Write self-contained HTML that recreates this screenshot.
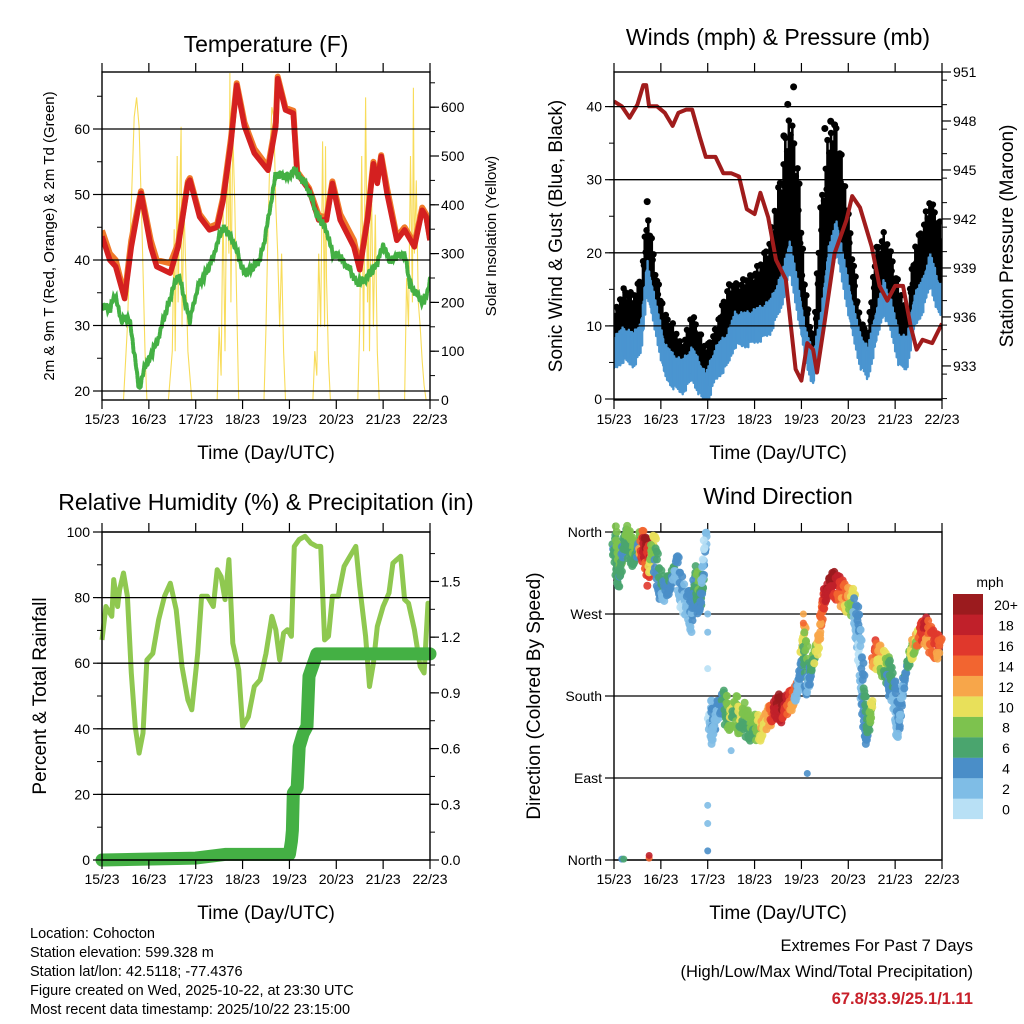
<!DOCTYPE html>
<html><head><meta charset="utf-8"><style>
html,body{margin:0;padding:0;background:#fff;}
svg{display:block;font-family:"Liberation Sans",Arial,sans-serif;}
</style></head><body>
<svg id="c" width="1024" height="1024" viewBox="0 0 1024 1024">
<rect width="1024" height="1024" fill="#fff"/>
<g id="g1"></g>
<g id="g2"></g>
<g id="g3"></g>
<g id="g4"></g>
<text x="266" y="52" font-size="23" text-anchor="middle">Temperature (F)</text>
<text x="778" y="45" font-size="23" text-anchor="middle">Winds (mph) &amp; Pressure (mb)</text>
<text x="266" y="510" font-size="23" text-anchor="middle">Relative Humidity (%) &amp; Precipitation (in)</text>
<text x="778" y="504" font-size="23" text-anchor="middle">Wind Direction</text>
<text transform="translate(54,236) rotate(-90)" font-size="15" text-anchor="middle">2m &amp; 9m T (Red, Orange) &amp; 2m Td (Green)</text>
<text transform="translate(496,236) rotate(-90)" font-size="15" text-anchor="middle">Solar Insolation (Yellow)</text>
<text transform="translate(562,236) rotate(-90)" font-size="19" text-anchor="middle">Sonic Wind &amp; Gust (Blue, Black)</text>
<text transform="translate(1013,236) rotate(-90)" font-size="19" text-anchor="middle">Station Pressure (Maroon)</text>
<text transform="translate(46,696) rotate(-90)" font-size="19" text-anchor="middle">Percent &amp; Total Rainfall</text>
<text transform="translate(540,696) rotate(-90)" font-size="19" text-anchor="middle">Direction (Colored By Speed)</text>
<text x="266" y="459" font-size="19" text-anchor="middle">Time (Day/UTC)</text>
<text x="778" y="459" font-size="19" text-anchor="middle">Time (Day/UTC)</text>
<text x="266" y="919" font-size="19" text-anchor="middle">Time (Day/UTC)</text>
<text x="778" y="919" font-size="19" text-anchor="middle">Time (Day/UTC)</text>
<g font-size="14.5">
<text x="30" y="938">Location: Cohocton</text>
<text x="30" y="957">Station elevation: 599.328 m</text>
<text x="30" y="976">Station lat/lon: 42.5118; -77.4376</text>
<text x="30" y="995">Figure created on Wed, 2025-10-22, at 23:30 UTC</text>
<text x="30" y="1014">Most recent data timestamp: 2025/10/22 23:15:00</text>
</g>
<g text-anchor="end">
<text x="973" y="951" font-size="16.5">Extremes For Past 7 Days</text>
<text x="973" y="977" font-size="16.5">(High/Low/Max Wind/Total Precipitation)</text>
<text x="973" y="1004" font-size="16.5" font-weight="bold" fill="#c8202a">67.8/33.9/25.1/1.11</text>
</g>
<text x="990" y="587" font-size="14" text-anchor="middle">mph</text>
<g id="cb"></g>
</svg>
<script>
const dayLabels=["15/23","16/23","17/23","18/23","19/23","20/23","21/23","22/23"];
const tempTicks=[20,30,40,50,60];
const solarTicks=[0,100,200,300,400,500,600];
const windTicks=[0,10,20,30,40];
const presTicks=[933,936,939,942,945,948,951];
const rhTicks=[0,20,40,60,80,100];
const prTicks=[0.0,0.3,0.6,0.9,1.2,1.5];
const dirTicks=[0,90,180,270,360];
const dirLabels=["North","East","South","West","North"];
const speedBins=["0","2","4","6","8","10","12","14","16","18","20+"];
const speedColors=["#b8e0f5","#7fbde6","#4a8ec8","#4aa56e","#7dc24e","#e8e05a","#f7a64a","#f26530","#e0382c","#c0202a","#9b1b1e"];

const tH=[0,4,7,11.6,15,20,25,28,35,39,44,45,50,55,59,62,66,69,73,78,85,89,90,94,98,100,106,111,115,118,122,129,132,136,139,141,143,146,151,155,160,164,166,168];
const tRed=[43.6,40,39,34.1,42,50.2,42,39,38,42,51.7,52.2,46.6,44.6,45,49,57.8,66.7,60.4,56.3,53.7,60.4,67.7,62.9,62.4,53.2,50.7,46.1,46.1,51.7,46.1,42,38.5,46.1,54.7,51.7,55.8,50.2,43,44.6,42,47.6,46.6,43];
const tOrange=[44.5,41,40,34.5,43,50.5,43,40,39.5,42.5,52,52.5,47,45,45.5,49.5,58.5,67,61,57,54.2,61,68,63.2,62.8,53.5,51,46.8,46.5,52,47,43,39,46.5,55,52,56,51,43.5,45,42.5,48,47,43.2];
const dH=[0,4,6.5,10,14,17,19,22,28,33,39,45,49,55,62,67,73,80,83,89,94,99,105,110,115,118,122,127,131,136,141,144,147,155,158,165,168];
const dV=[33.1,32.4,34.7,30.8,31.3,24.7,20.2,23.7,27.3,32.4,38,30.8,35.9,39,45.1,43,38,39.5,42.5,53.2,52.7,53.7,51.2,47.1,44.6,41,40.5,38.5,36.4,37.5,39.5,42.5,40,41,35.9,33.4,36.9];
const sH=[0,11,13,15,16.5,17.7,19,20.5,22,23,34,36,37,37.5,38.5,39,40,40.5,41,42,43,44,46,59,60,61,62,63,64,65,65.5,66,67,68,69,70,83,84,85,86,87,88,89,90,91,92,93,94,108,109,110,111,112,113,114,114.5,115,116,117,131,132,133,134,135,136,136.5,137,138,139,140,141,142,155,156,157,158,159,159.5,160,161,162,163,164,165,166,168];
const sV=[0,0,150,400,580,620,560,350,100,0,0,100,350,100,500,200,450,560,150,400,250,100,0,0,150,50,400,100,500,300,670,200,550,400,200,0,0,150,350,500,600,580,400,300,150,300,100,0,0,100,50,300,150,530,150,520,250,80,0,0,150,500,100,620,200,400,100,450,150,380,100,0,0,250,150,500,200,640,300,450,200,150,80,30,0,0];

const wH=[0,5,10,14,17,19,22,26,30,35,40,47,52,58,62,68,75,80,86,90,94,98,102,106,110,114,118,122,126,130,134,138,142,146,150,154,158,162,166,168];
const wSpd=[6.7,8,7.2,9,17.2,14.5,10.8,5.8,4.4,3.5,5.3,1.7,5.3,7.2,10,10,10.8,11.7,15.4,20,14.5,8,4.4,10,19,22.7,17.2,11.7,7.2,5.3,10,14.5,11.7,7.2,6.7,12.6,14.5,18.2,14.5,13.7];
const wGust=[10.4,13.6,12.6,15.4,23.6,20.9,15.4,10.4,9,6.3,10.4,5.8,8.6,13.6,14.5,15,16.8,20,28.3,35.2,29.2,13.6,7.2,23.6,32.6,34.6,27.4,19,10,8.2,18.2,20.9,18.2,13.6,10.8,19,21.8,25.4,22.7,20.9];
const gOutH=[17,87,89,92,108,111,113];
const gOutV=[27,36,40.3,42.7,37,38,37.5];
const pH=[0,4,8,12,15,16.5,18,22,26,30,33,37,40,44,47,52,56,60,64,68,72,75,79,83,88,93,96,99,102,104,108,113,119,122,126,132,136,140,144,148,152,155,158,163,168];
const pV=[949.2,948.9,948.2,949,950.2,950.2,948.9,948.9,948.5,947.7,948.5,948.7,948.7,947,945.8,945.8,944.8,944.8,944.6,942.6,942.3,943.6,942.1,939.5,938.3,932.8,932.1,934.4,934,932.6,935.8,939.9,941.9,943.4,942.7,940.3,937.9,937,937.9,937.9,935.4,934,934.6,934.4,935.6];

const rhH=[0,2,5,6,8,9,11,13,15,17,19,21,23,26,29,32,35,38,41,44,46,49,51,54,57,59,61,63,65,67,70,72,75,78,81,84,87,89,91,93,95,97,98.5,101,104,107,110,112,114,116,118,121,124,126,128,130,132,135,137,139,141,144,147,149,151,153,155,157,160,163,165,167,168];
const rhV=[67.1,77.3,74.3,85.5,77.3,82.4,87.5,80.4,57,40.7,32.6,38.7,61,63,73.2,80.4,84.4,76.3,59,48.8,45.8,63,80.4,80.4,77.3,88.5,86.4,79.4,91.6,66.1,58,40.7,43.7,52.9,54.9,63,74.3,70.2,61,69.2,70.2,68.2,95.6,97.7,98.7,96.6,95.6,95.6,67.1,68.2,80.4,80.4,89.5,91.6,93.6,95.6,83.4,68.2,52.9,60,71.2,77.3,81.4,90.5,91.6,92.6,79.4,78.3,70.2,59,57,78.3,78.3];
const prH=[0,48,63,96,97,97.5,98,100,101,103,105,106,108,110,168];
const prV=[0,0.01,0.03,0.03,0.1,0.16,0.36,0.39,0.61,0.68,0.72,0.99,1.05,1.11,1.11];

const dirH=[0,1,2,3,4,5,6,8,10,12,13,14,15,16,17,18,19,20,22,24,26,28,30,32,34,36,38,40,41,43,44,45,46,47,49,50,51,52,54,56,58,60,62,64,66,68,70,72,74,76,78,80,82,84,86,88,90,92,94,95,96,97,98,99,100,101,102,105,106,107,108,110,112,114,116,118,120,122,124,125,126,127,128,129,130,131,132,133,134,136,138,140,141,142,144,145,146,148,150,152,153,155,157,159,161,163,165,167];
const dirD=[355,340,320,310,330,350,355,345,335,340,350,350,340,345,330,315,335,350,320,300,295,305,310,325,300,280,285,260,310,300,280,290,330,355,165,150,140,160,170,175,160,155,170,150,160,150,145,148,145,145,155,160,165,170,165,170,175,180,185,200,215,250,230,190,200,210,220,240,260,285,290,300,305,300,295,290,285,285,270,250,230,200,170,150,140,155,170,230,220,225,215,210,205,190,180,160,140,190,215,225,235,240,250,255,245,240,235,230];
const dirS=[7,8,8,7,8,6,8,8,8,8,7,14,18,20,16,18,12,10,6,6,4,6,6,4,4,2,4,4,6,8,6,6,4,2,2,4,4,4,4,6,8,10,8,10,8,8,8,8,10,12,12,14,18,20,20,18,16,14,4,4,6,12,8,6,4,6,8,12,14,16,18,20,20,18,16,14,12,10,4,4,2,4,6,6,6,8,10,16,14,12,10,8,6,6,4,4,4,4,6,8,12,10,16,18,14,16,16,14];
const extraH=[48,48,48,48,48,48,4,5,18,18,97,97,99,60];
const extraD=[270,250,210,60,40,10,1,1,2,5,270,260,95,120];
const extraS=[2,2,0,2,2,4,4,6,14,18,12,14,4,2];

const NS='http://www.w3.org/2000/svg';
// fixed visual scatter pattern (styling only)
const JIT=[0,-0.8,0.5,-0.3,0.9,-0.6,0.2,-1,0.7,-0.4,0.3,-0.9,0.8,-0.2,0.6,-0.7];
function mk(parent,tag,attrs){const e=document.createElementNS(NS,tag);for(const k in attrs)e.setAttribute(k,attrs[k]);parent.appendChild(e);return e;}
function line(v){return v.map((p,i)=>(i?'L':'M')+p[0].toFixed(1)+' '+p[1].toFixed(1)).join(' ');}
function interp(hs,vs,h){for(let i=0;i<hs.length-1;i++){if(h>=hs[i]&&h<=hs[i+1]){const f=(h-hs[i])/(hs[i+1]-hs[i]||1);return vs[i]+(vs[i+1]-vs[i])*f;}}return vs[vs.length-1];}

function frame(g,L,R,T,B,leftTicks,leftLab,ly,minorL,rightTicks,rightLab,ry,minorR,grid){
  const xs=h=>L+(R-L)*h/168;
  for(let d=0;d<=7;d++){const x=xs(d*24);
    const t=mk(g,'path',{d:`M${x} ${T} V${T-9} M${x} ${B} V${B+9}`,stroke:'#000','stroke-width':1.2});
    
    const tx=mk(g,'text',{x:x,y:B+24,'font-size':14,'text-anchor':'middle'});tx.textContent=dayLabels[d];
    
  }
  leftTicks.forEach((v,i)=>{const y=ly(v);
    if(grid){const gl=mk(g,'line',{x1:L,x2:R,y1:y,y2:y,stroke:'#000','stroke-width':1.3});
      }
    mk(g,'line',{x1:L-9,x2:L,y1:y,y2:y,stroke:'#000','stroke-width':1.2});
    const tx=mk(g,'text',{x:L-12,y:y+5,'font-size':14,'text-anchor':'end'});tx.textContent=leftLab[i];
    
  });
  minorL.forEach(v=>{const y=ly(v);if(y>=T-0.5&&y<=B+0.5)mk(g,'line',{x1:L-5,x2:L,y1:y,y2:y,stroke:'#000','stroke-width':1});});
  rightTicks.forEach((v,i)=>{const y=ry(v);
    mk(g,'line',{x1:R,x2:R+9,y1:y,y2:y,stroke:'#000','stroke-width':1.2});
    const tx=mk(g,'text',{x:R+11,y:y+5,'font-size':14});tx.textContent=rightLab[i];
    
  });
  minorR.forEach(v=>{const y=ry(v);if(y>=T-0.5&&y<=B+0.5)mk(g,'line',{x1:R,x2:R+5,y1:y,y2:y,stroke:'#000','stroke-width':1});});
  const f=mk(g,'rect',{x:L,y:T,width:R-L,height:B-T,fill:'none',stroke:'#000','stroke-width':1.4});
  
  return xs;
}
function range(a,b,s){const r=[];for(let v=a;v<=b+1e-9;v+=s)r.push(+v.toFixed(3));return r;}

// Panel 1
(function(){
  const g=document.getElementById('g1');const L=102,R=430,T=72,B=400;
  const ty=v=>391-(v-20)*6.55, sy=v=>400-v*0.488;
  const clip=mk(g,'clipPath',{id:'cl1'});mk(clip,'rect',{x:L,y:T,width:R-L,height:B-T});
  const xs=h=>L+(R-L)*h/168;
  const pg=mk(g,'g',{'clip-path':'url(#cl1)'});
  const s=mk(pg,'path',{d:line(sH.map((h,i)=>[xs(h),sy(sV[i])])),fill:'none',stroke:'#f8dc5a','stroke-width':1.1});
  
  const o=mk(pg,'path',{d:line(tH.map((h,i)=>[xs(h),ty(tOrange[i])])),fill:'none',stroke:'#f07a2a','stroke-width':6,'stroke-linejoin':'round'});
  
  const r=mk(pg,'path',{d:line(tH.map((h,i)=>[xs(h),ty(tRed[i])])),fill:'none',stroke:'#d42020','stroke-width':5.5,'stroke-linejoin':'round'});
  
  const pts=[];for(let h=0;h<=168;h+=0.6){pts.push([xs(h),ty(interp(dH,dV,h)+JIT[Math.round(h/0.6)%16]*0.6)]);}
  const d=mk(pg,'path',{d:line(pts),fill:'none',stroke:'#44b044','stroke-width':4,'stroke-dasharray':'2.5 1.8','stroke-linecap':'round'});
  
  frame(g,L,R,T,B,tempTicks,tempTicks.map(String),ty,range(20,70,5),solarTicks,solarTicks.map(String),sy,range(0,650,50),true);
})();

// Panel 2
(function(){
  const g=document.getElementById('g2');const L=614,R=942,T=72,B=400;
  const wy=v=>399-v*7.31, py=v=>72+(951-v)*16.33;
  const clip=mk(g,'clipPath',{id:'cl2'});mk(clip,'rect',{x:L,y:T,width:R-L,height:B-T});
  const xs=h=>L+(R-L)*h/168;
  const pg=mk(g,'g',{'clip-path':'url(#cl2)'});
  // gust points: vertical strokes from speed to gust, plus dots
  let k=0;
  for(let h=0;h<=168;h+=0.45){k++;
    const sp=interp(wH,wSpd,h), gu=interp(wH,wGust,h), j=JIT[k%16];
    const top=gu+j*(gu-sp)*0.35;
    const c=mk(pg,'line',{x1:xs(h),x2:xs(h),y1:wy(sp),y2:wy(top),stroke:'#000','stroke-width':2.6});
    
    const d=mk(pg,'circle',{cx:xs(h),cy:wy(top),r:3.2,fill:'#000'});
    
  }
  gOutH.forEach((h,i)=>{const c=mk(pg,'circle',{cx:xs(h),cy:wy(gOutV[i]),r:3.5,fill:'#000'});
    });
  k=0;
  for(let h=0;h<=168;h+=0.4){k++;
    const sp=interp(wH,wSpd,h), j=JIT[(k*3)%16];
    const c=mk(pg,'line',{x1:xs(h),x2:xs(h),y1:wy(sp-2.2+j*0.8),y2:wy(sp+1.4+j*0.6),stroke:'#4a95d0','stroke-width':2.4,'stroke-linecap':'round'});
    
  }
  const p=mk(pg,'path',{d:line(pH.map((h,i)=>[xs(h),py(pV[i])])),fill:'none',stroke:'#a01c1c','stroke-width':4,'stroke-linejoin':'round'});
  
  frame(g,L,R,T,B,windTicks,windTicks.map(String),wy,range(0,45,5),presTicks,presTicks.map(String),py,range(931,951,1.5),true);
})();

// Panel 3
(function(){
  const g=document.getElementById('g3');const L=102,R=430,T=532,B=860;
  const hy=v=>860-v*3.28, qy=v=>860-v*185.7;
  const clip=mk(g,'clipPath',{id:'cl3'});mk(clip,'rect',{x:L-10,y:T,width:R-L+20,height:B-T+10});
  const xs=h=>L+(R-L)*h/168;
  const pg=mk(g,'g',{'clip-path':'url(#cl3)'});
  const rh=mk(pg,'path',{d:line(rhH.map((h,i)=>[xs(h),hy(rhV[i])])),fill:'none',stroke:'#8fc850','stroke-width':5,'stroke-linejoin':'round'});
  
  const pr=mk(pg,'path',{d:line(prH.map((h,i)=>[xs(h),qy(prV[i])])),fill:'none',stroke:'#44b044','stroke-width':13,'stroke-linecap':'round','stroke-linejoin':'round'});
  
  frame(g,L,R,T,B,rhTicks,rhTicks.map(String),hy,range(0,100,10),prTicks,prTicks.map(v=>v.toFixed(1)),qy,range(0,1.75,0.15),true);
})();

// Panel 4
(function(){
  const g=document.getElementById('g4');const L=614,R=942,T=532,B=860;
  const dy=v=>860-v*0.9111;
  const xs=h=>L+(R-L)*h/168;
  frame(g,L,R,T,B,dirTicks,dirLabels,dy,[],[],[],dy,[],true);
  const pg=mk(g,'g',{});
  const col=s=>speedColors[Math.min(10,Math.floor(s/2))];
  let q=0;
  for(let i=0;i<dirH.length;i++){
    const n=(i+1<dirH.length&&dirH[i+1]-dirH[i]<=3&&Math.abs(dirD[i+1]-dirD[i])<60)?6:1;
    for(let k=0;k<n;k++){const f=k/n;q++;
      const h=dirH[i]+(n>1?(dirH[i+1]-dirH[i])*f:0), dv=dirD[i]+(n>1?(dirD[i+1]-dirD[i])*f:0);
      const sp=f<0.5?dirS[i]:dirS[i+1];
      [0,1].forEach(m=>{
        const off=JIT[(q*5+m*7)%16]*14;
        const c=mk(pg,'circle',{cx:xs(h)+JIT[(q+m*3)%16]*2,cy:dy(dv+off),r:4,fill:col(Math.max(0,sp+JIT[(q*3+m)%16]*2)),'fill-opacity':0.9});
        
      });
    }
  }
  extraH.forEach((h,i)=>{const c=mk(pg,'circle',{cx:xs(h),cy:dy(extraD[i]),r:3.5,fill:col(extraS[i]),'fill-opacity':0.9});
    });
  const cb=document.getElementById('cb');
  speedBins.forEach((lab,i)=>{const j=10-i;const y=594+j*20.45;
    const r=mk(cb,'rect',{x:953,y:y,width:30,height:20.6,fill:speedColors[i]});
    
    const t=mk(cb,'text',{x:1006,y:y+16,'font-size':14,'text-anchor':'middle'});t.textContent=lab;
    
  });
})();
</script>
</body></html>
